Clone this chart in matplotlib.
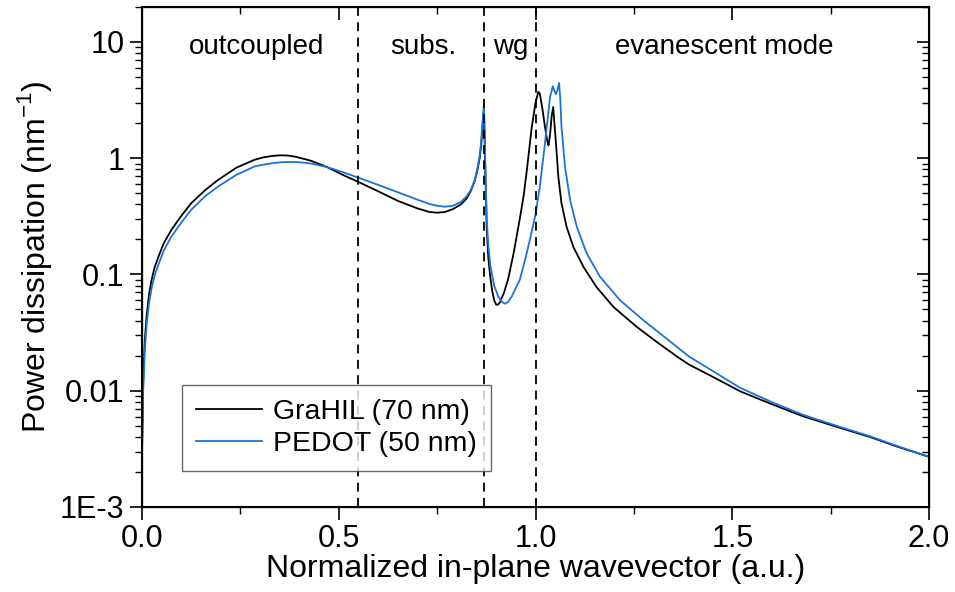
import numpy as np
import matplotlib.pyplot as plt
from matplotlib.ticker import FixedLocator, FuncFormatter, LogLocator, MultipleLocator

plt.rcParams['font.family'] = ['Liberation Sans', 'DejaVu Sans']

# GraHIL (70 nm)
x_grahil = [0.0, 0.003, 0.007, 0.012, 0.018, 0.024, 0.032, 0.041, 0.055, 0.074,
            0.10, 0.125, 0.16, 0.193, 0.24, 0.286, 0.31, 0.33, 0.35, 0.37,
            0.39, 0.41, 0.43, 0.47, 0.51, 0.55, 0.60, 0.65, 0.70, 0.73,
            0.75, 0.77, 0.79, 0.81, 0.825, 0.835, 0.845, 0.852, 0.858, 0.862,
            0.866, 0.869, 0.872, 0.876, 0.88, 0.885, 0.89, 0.895, 0.90, 0.905,
            0.91, 0.92, 0.93, 0.944, 0.96, 0.97, 0.978, 0.99, 1.0, 1.007,
            1.011, 1.018, 1.024, 1.03, 1.033, 1.037, 1.041, 1.045, 1.048, 1.052,
            1.058, 1.066, 1.079, 1.096, 1.122, 1.155, 1.198, 1.257, 1.308, 1.363,
            1.39, 1.45, 1.52, 1.60, 1.68, 1.774, 1.85, 1.92, 2.0]
y_grahil = [0.003, 0.012, 0.027, 0.045, 0.068, 0.089, 0.115, 0.14, 0.185, 0.24,
            0.32, 0.41, 0.53, 0.65, 0.83, 0.97, 1.02, 1.045, 1.06, 1.055,
            1.03, 0.99, 0.95, 0.84, 0.72, 0.625, 0.52, 0.43, 0.37, 0.345,
            0.34, 0.345, 0.365, 0.40, 0.45, 0.52, 0.63, 0.78, 1.0, 1.3,
            2.0, 2.7, 0.9, 0.25, 0.14, 0.095, 0.072, 0.060, 0.055, 0.055,
            0.058, 0.07, 0.09, 0.15, 0.3, 0.48, 0.79, 1.8, 3.0, 3.72,
            3.6, 2.6, 1.86, 1.4, 1.29, 1.6, 2.3, 2.76, 2.0, 1.34,
            0.69, 0.41, 0.257, 0.173, 0.116, 0.078, 0.0526, 0.0355, 0.0263, 0.0193,
            0.0168, 0.0132, 0.00989, 0.00767, 0.00603, 0.00479, 0.0040, 0.0033, 0.0027]

# PEDOT (50 nm)
x_pedot = [0.0, 0.003, 0.007, 0.012, 0.018, 0.024, 0.032, 0.041, 0.055, 0.074,
           0.10, 0.125, 0.16, 0.193, 0.24, 0.286, 0.30, 0.33, 0.355, 0.38,
           0.405, 0.43, 0.47, 0.51, 0.55, 0.60, 0.65, 0.70, 0.73, 0.75,
           0.77, 0.79, 0.81, 0.825, 0.835, 0.845, 0.852, 0.858, 0.862, 0.866,
           0.869, 0.872, 0.876, 0.88, 0.885, 0.895, 0.905, 0.915, 0.9225, 0.93,
           0.94, 0.96, 0.975, 0.99, 1.0, 1.011, 1.024, 1.037, 1.044, 1.048,
           1.052, 1.056, 1.06, 1.063, 1.066, 1.075, 1.088, 1.105, 1.13, 1.164,
           1.215, 1.274, 1.333, 1.39, 1.45, 1.52, 1.60, 1.68, 1.774, 1.85,
           1.92, 2.0]
y_pedot = [0.003, 0.010, 0.022, 0.038, 0.057, 0.075, 0.098, 0.12, 0.16, 0.21,
           0.28, 0.36, 0.47, 0.57, 0.72, 0.85, 0.87, 0.905, 0.925, 0.93,
           0.92, 0.9, 0.84, 0.76, 0.68, 0.59, 0.51, 0.44, 0.405, 0.39,
           0.383, 0.39, 0.42, 0.47, 0.53, 0.64, 0.8, 1.05, 1.4, 2.2,
           2.9, 1.0, 0.3, 0.18, 0.12, 0.08, 0.065, 0.058, 0.056, 0.058,
           0.065, 0.09, 0.14, 0.23, 0.33, 0.57, 1.34, 3.37, 4.16, 3.8,
           3.55, 3.9, 4.44, 3.2, 1.86, 0.84, 0.435, 0.257, 0.152, 0.0955,
           0.060, 0.0404, 0.0281, 0.0197, 0.0148, 0.0106, 0.0080, 0.0062, 0.00488, 0.00406,
           0.00334, 0.0027]

boundaries = [0.55, 0.87, 1.0]
regions = ['outcoupled', 'subs.', 'wg', 'evanescent mode']
region_x = [0.292, 0.714, 0.938, 1.48]

y_ticks = [1e-3, 1e-2, 1e-1, 1, 10]
y_ticklabels = ['1E-3', '0.01', '0.1', '1', '10']

fig = plt.figure(figsize=(9.55, 5.92), dpi=100)
ax = fig.add_axes([0.1487, 0.1436, 0.8241, 0.8446])

ax.plot(x_grahil, y_grahil, color='black', lw=1.3, label='GraHIL (70 nm)')
ax.plot(x_pedot, y_pedot, color='#1a73d9', lw=1.3, label='PEDOT (50 nm)')

for b in boundaries:
    ax.axvline(b, color='black', lw=1.3, ls=(0, (5, 3.5)))

for name, xp in zip(regions, region_x):
    ax.text(xp, 9.0, name, ha='center', va='center', fontsize=20)

ax.set_yscale('log')
ax.set_xlim(0, 2.0)
ax.set_ylim(1e-3, 20)

ax.xaxis.set_major_locator(MultipleLocator(0.5))
ax.xaxis.set_minor_locator(MultipleLocator(0.25))
ax.xaxis.set_major_formatter(FuncFormatter(lambda v, p: '%.1f' % v))
ax.yaxis.set_major_locator(FixedLocator(y_ticks))
ax.yaxis.set_major_formatter(FuncFormatter(lambda v, p: dict(zip(y_ticks, y_ticklabels)).get(v, '')))
ax.yaxis.set_minor_locator(LogLocator(base=10, subs=np.arange(2, 10)))

ax.tick_params(which='major', direction='out', length=9, width=1.2, labelsize=22)
ax.tick_params(which='minor', direction='out', length=5, width=1.0)

for s in ax.spines.values():
    s.set_linewidth(1.5)

# mirrored ticks pointing inward on top and right
ax2 = ax.twinx()
ax2.set_yscale('log')
ax2.set_ylim(ax.get_ylim())
ax2.yaxis.set_major_locator(FixedLocator(y_ticks))
ax2.yaxis.set_minor_locator(LogLocator(base=10, subs=np.arange(2, 10)))
ax2.tick_params(which='major', direction='in', length=9, width=1.2, labelright=False)
ax2.tick_params(which='minor', direction='in', length=5, width=1.0, labelright=False)
ax3 = ax.twiny()
ax3.set_xlim(ax.get_xlim())
ax3.xaxis.set_major_locator(MultipleLocator(0.5))
ax3.xaxis.set_minor_locator(MultipleLocator(0.25))
ax3.tick_params(which='major', direction='in', length=9, width=1.2, labeltop=False)
ax3.tick_params(which='minor', direction='in', length=5, width=1.0, labeltop=False)

ax.set_xlabel('Normalized in-plane wavevector (a.u.)', fontsize=23, labelpad=0)
ax.set_ylabel(r'Power dissipation (nm$^{\mathregular{-1}}$)', fontsize=23, labelpad=4)

leg = ax.legend(loc='lower left', bbox_to_anchor=(0.051, 0.072), fontsize=20.5,
                frameon=True, fancybox=False, borderaxespad=0, handlelength=2.3,
                handletextpad=0.4, borderpad=0.5, labelspacing=0.2)
leg.get_frame().set_edgecolor('#404040')
leg.get_frame().set_linewidth(1.0)

fig.savefig('out.png', dpi=100)
